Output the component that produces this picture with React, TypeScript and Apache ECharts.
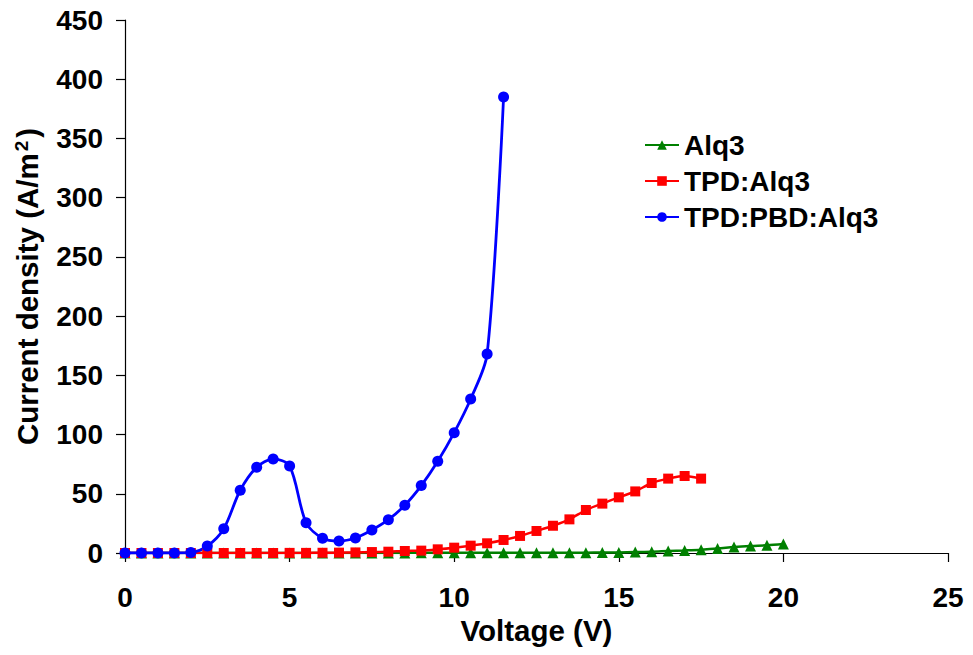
import React, { useEffect, useRef } from "react";
import * as echarts from "echarts";

const voltages = [
  0, 0.5, 1, 1.5, 2, 2.5, 3, 3.5, 4, 4.5, 5, 5.5, 6, 6.5, 7, 7.5, 8, 8.5, 9, 9.5,
  10, 10.5, 11, 11.5, 12, 12.5, 13, 13.5, 14, 14.5, 15, 15.5, 16, 16.5, 17, 17.5,
  18, 18.5, 19, 19.5, 20,
];

const alq3 = [
  0, 0, 0, 0, 0, 0, 0, 0, 0, 0, 0, 0, 0, 0, 0, 0,
  0.1, 0.1, 0.2, 0.2, 0.2, 0.2, 0.3, 0.3, 0.3, 0.3, 0.3, 0.3, 0.3, 0.4, 0.5,
  0.8, 1.1, 1.7, 2.2, 2.8, 3.7, 5.0, 5.9, 6.5, 7.6,
];

const tpdAlq3 = [
  0, 0, 0, 0, 0, 0, 0, 0, 0, 0,
  0.1, 0.1, 0.2, 0.3, 0.5, 0.8,
  1.1, 1.7, 2, 3.1, 4.5, 6.2, 8.2, 11, 14.4, 18.6, 23, 28.4, 36.3, 41.7, 47, 52,
  59.1, 62.8, 65, 62.8,
];

const tpdPbdAlq3 = [
  0, 0, 0, 0, 0.5, 5.9, 20.5, 53, 72.4, 79.4, 73.5, 25.6, 12.4, 10.1, 12.7, 19.4,
  28.1, 40.3, 56.9, 77.4, 101.6, 130, 168, 385,
];

const seriesNames = ["Alq3", "TPD:Alq3", "TPD:PBD:Alq3"];
const xTitle = "Voltage (V)";
const yTitle = "Current density (A/m{sup|2})";

const FONT = "'Liberation Sans', Arial, sans-serif";

function pairs(vals: number[]) {
  return vals.map((v, i) => [voltages[i], v]);
}

export default function App() {
  const ref = useRef<HTMLDivElement>(null);
  useEffect(() => {
    if (!ref.current) return;
    const chart = echarts.init(ref.current, undefined, { renderer: "svg" });
    const axisLine = { show: true, lineStyle: { color: "#000", width: 1.2 } };
    const label = { fontFamily: FONT, fontWeight: "bold" as const, fontSize: 28, color: "#000" };
    const title = { ...label, fontSize: 29.5 };
    chart.setOption({
      animation: false,
      backgroundColor: "#fff",
      grid: { left: 125, right: 25, top: 20, bottom: 102, containLabel: false },
      legend: {
        orient: "vertical",
        left: 639,
        top: 126,
        itemWidth: 34,
        itemHeight: 12,
        itemGap: 8,
        textStyle: { ...label, fontSize: 28 },
        data: seriesNames,
      },
      xAxis: {
        type: "value",
        min: 0,
        max: 25,
        interval: 5,
        name: xTitle,
        nameLocation: "middle",
        nameGap: 62,
        nameTextStyle: { ...title },
        axisLine,
        axisTick: { show: true, length: 9, lineStyle: { color: "#000", width: 1.2 } },
        axisLabel: { ...label, margin: 30 },
        splitLine: { show: false },
      },
      yAxis: {
        type: "value",
        min: 0,
        max: 450,
        interval: 50,
        name: yTitle,
        nameLocation: "middle",
        nameGap: 82,
        nameTextStyle: {
          ...title,
          rich: {
            sup: {
              fontFamily: FONT,
              fontWeight: "bold",
              fontSize: 19,
              color: "#000",
              verticalAlign: "top",
              padding: [0, 3, 12, 2],
            },
          },
        },
        axisLine,
        axisTick: { show: true, length: 9, lineStyle: { color: "#000", width: 1.2 } },
        axisLabel: { ...label, margin: 22 },
        splitLine: { show: false },
      },
      series: [
        {
          name: seriesNames[0],
          type: "line",
          data: pairs(alq3),
          smooth: 0.3,
          symbol: "triangle",
          symbolSize: 11,
          itemStyle: { color: "#008000" },
          lineStyle: { color: "#008000", width: 2.5 },
        },
        {
          name: seriesNames[1],
          type: "line",
          data: pairs(tpdAlq3),
          smooth: 0.3,
          symbol: "rect",
          symbolSize: 10,
          itemStyle: { color: "#ff0000" },
          lineStyle: { color: "#ff0000", width: 2.5 },
        },
        {
          name: seriesNames[2],
          type: "line",
          data: pairs(tpdPbdAlq3),
          smooth: 0.3,
          symbol: "circle",
          symbolSize: 11,
          itemStyle: { color: "#0000ff" },
          lineStyle: { color: "#0000ff", width: 2.8 },
        },
      ],
    });
    return () => chart.dispose();
  }, []);
  return (
    <div
      ref={ref}
      style={{ position: "fixed", left: 0, top: 0, width: 973, height: 655, background: "#fff" }}
    />
  );
}
